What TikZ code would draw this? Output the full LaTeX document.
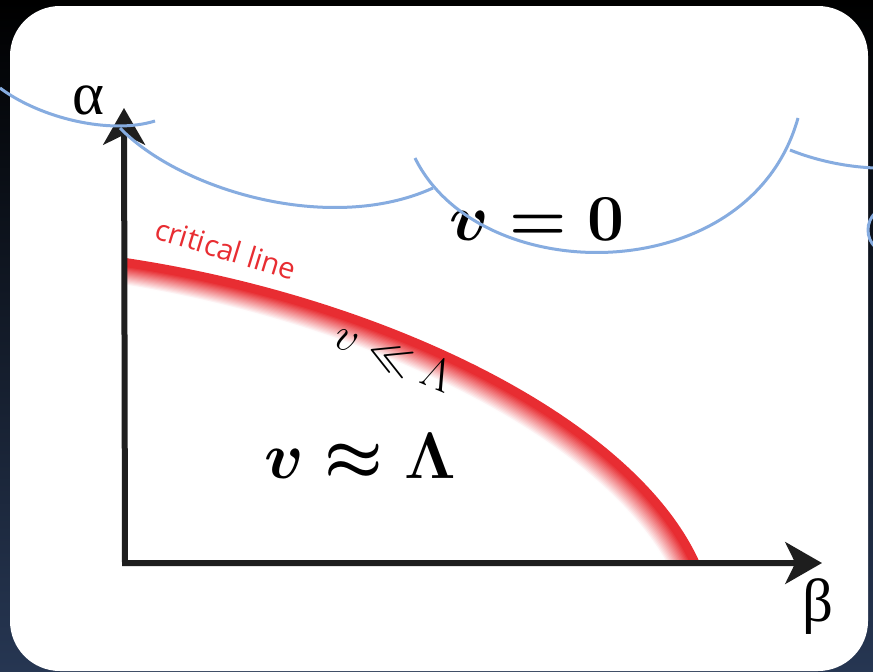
\RequirePackage{fix-cm}
\documentclass[tikz,border=0pt]{standalone}
\usepackage{fontspec}
\newfontfamily\greekfont{Liberation Serif}
\newfontfamily\labelfont{Open Sans}
\usetikzlibrary{arrows.meta}
\definecolor{cloudblue}{RGB}{134,172,224}
\definecolor{critred}{RGB}{232,45,50}
\definecolor{navy}{RGB}{38,54,82}
\definecolor{axisgray}{RGB}{30,30,30}
\tikzset{
  cloud arc/.style={draw=cloudblue, line width=0.09cm},
  axis line/.style={draw=axisgray, line width=0.18cm, line join=miter,
    {Stealth[length=1.1cm,width=1.25cm,inset=0.3cm]}-{Stealth[length=1.1cm,width=1.25cm,inset=0.3cm]}},
  crit line/.style={line width=0.27cm},
  big label/.style={font=\fontsize{56}{60}\selectfont\boldmath},
  axis label/.style={font=\greekfont\fontsize{52}{56}\selectfont},
}
\begin{document}
\begin{tikzpicture}[x=0.03cm, y=-0.03cm]
  \useasboundingbox (0,0) rectangle (873,671);
  % background and card
  \shade[top color=black, middle color=black!85!navy, bottom color=navy] (0,0) rectangle (873,671);
  \fill[white, rounded corners=1.5cm] (10,6) rectangle (868,671);

  \coordinate (O) at (125,563);
  \coordinate (ytip) at (124,108);
  \coordinate (xtip) at (822,563);

  % critical line with its glow
  \begin{scope}
    \clip (125,0) rectangle (873,563);
    \foreach \s in {16,15,...,1}
      \pgfmathsetmacro{\p}{max(0,100-6.2*\s)}
      \draw[crit line, draw=critred!\p!white, xshift=-\s*0.03cm, yshift=-\s*0.03cm]
        (122,262) .. controls (380,300) and (630,420) .. (695,563);
    \draw[crit line, critred] (122,262) .. controls (380,300) and (630,420) .. (695,563);
  \end{scope}

  % axes
  \draw[axis line] (ytip) -- (O) -- (xtip);
  \node[axis label] (alpha) at (88,100) {α};
  \node[axis label] (beta) at (818,607) {β};

  % labels
  \node[text=critred, font=\labelfont\fontsize{25}{28}\selectfont, rotate=-17] (crit) at (226,249) {critical line};
  \node[font=\fontsize{39}{42}\selectfont, rotate=-23] (ll) at (394,356) {$v \ll \Lambda$};
  \node[big label] (vzero) at (537,219) {$v = 0$};
  \node[big label] (vapprox) at (360,457) {$v \approx \Lambda$};

  % cloud outline
  \draw[cloud arc] (0,88) .. controls (40,118) and (110,135) .. (155,121);
  \draw[cloud arc] (120,128) .. controls (180,190) and (330,235) .. (433,188);
  \draw[cloud arc] (415,158) .. controls (480,290) and (750,290) .. (798,118);
  \draw[cloud arc] (790,150) .. controls (820,162) and (850,167) .. (875,168);
  \draw[cloud arc] (892,230) circle[radius=24];
\end{tikzpicture}
\end{document}
